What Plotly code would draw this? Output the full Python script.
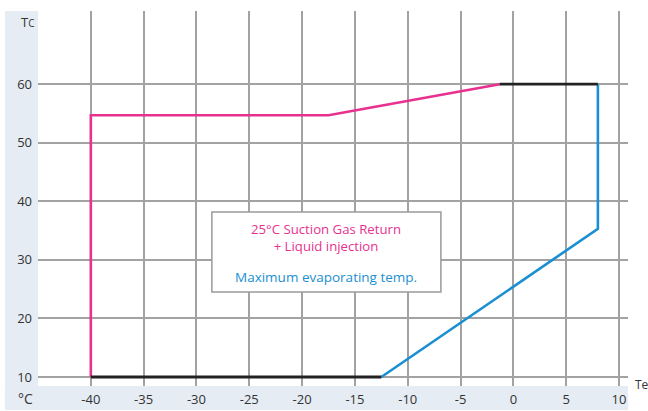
import plotly.graph_objects as go

# Data (Te, Tc)
pink_te = [-40, -40, -17.5, -1.3]
pink_tc = [10, 54.7, 54.7, 60]
black_top_te = [-1.3, 8]
black_top_tc = [60, 60]
blue_te = [8, 8, -12.5]
blue_tc = [60, 35.3, 10]
black_bot_te = [-40, -12.5]
black_bot_tc = [10, 10]

x_ticks = [-40, -35, -30, -25, -20, -15, -10, -5, 0, 5, 10]
y_ticks = [10, 20, 30, 40, 50, 60]

PINK = "#e8318f"
BLUE = "#1b8fd2"
BLACK = "#222222"
BAND = "#e6ecf4"
GRID = "#a2a2a2"

fig = go.Figure()
fig.add_trace(go.Scatter(x=pink_te, y=pink_tc, mode="lines", line=dict(color=PINK, width=2.6)))
fig.add_trace(go.Scatter(x=blue_te, y=blue_tc, mode="lines", line=dict(color=BLUE, width=2.6)))
fig.add_trace(go.Scatter(x=black_top_te, y=black_top_tc, mode="lines", line=dict(color=BLACK, width=2.8)))
fig.add_trace(go.Scatter(x=black_bot_te, y=black_bot_tc, mode="lines", line=dict(color=BLACK, width=2.8)))

font = "Open Sans, Noto Sans, sans-serif"

fig.update_layout(
    width=648, height=411,
    margin=dict(l=38, r=20, t=11, b=25, autoexpand=False),
    paper_bgcolor="white", plot_bgcolor="white",
    showlegend=False,
    font=dict(family=font, size=13, color="#333333"),
    xaxis=dict(range=[-45.0, 10.85], tickvals=x_ticks, ticktext=[str(v) for v in x_ticks],
               showgrid=True, gridcolor=GRID, gridwidth=1.5, zeroline=False, automargin=False,
               showline=False, ticks="", ticklabelstandoff=4, fixedrange=True),
    yaxis=dict(range=[8.46, 72.5], tickvals=y_ticks, ticktext=[str(v) for v in y_ticks],
               showgrid=True, gridcolor=GRID, gridwidth=1.5, zeroline=False, automargin=False,
               showline=False, ticks="", ticklabelstandoff=5, fixedrange=True),
)

# background bands (left and bottom)
fig.add_shape(type="rect", xref="paper", yref="paper", x0=-0.056, x1=0, y0=-0.064, y1=1.0,
              fillcolor=BAND, line=dict(width=0), layer="below")
fig.add_shape(type="rect", xref="paper", yref="paper", x0=-0.056, x1=1.0, y0=-0.064, y1=0,
              fillcolor=BAND, line=dict(width=0), layer="below")

# legend box
fig.add_shape(type="rect", xref="x", yref="y", x0=-28.54, x1=-6.86, y0=24.5, y1=38.16,
              fillcolor="white", line=dict(color="#9a9a9a", width=1.5), layer="above")
fig.add_annotation(x=-17.7, y=33.89, xref="x", yref="y", showarrow=False, yanchor="middle",
                   text="25°C Suction Gas Return<br>+ Liquid injection",
                   font=dict(color=PINK, size=13.2))
fig.add_annotation(x=-17.7, y=27.07, xref="x", yref="y", showarrow=False, yanchor="middle",
                   text="Maximum evaporating temp.", font=dict(color=BLUE, size=13.5))

# axis titles
fig.add_annotation(x=-0.017, y=0.971, xref="paper", yref="paper", showarrow=False,
                   xanchor="center", yanchor="middle",
                   text="T<span style='font-size:10px'>C</span>", font=dict(size=13, color="#333333"))
fig.add_annotation(x=-0.022, y=-0.032, xref="paper", yref="paper", showarrow=False,
                   xanchor="center", yanchor="middle",
                   text="°C", font=dict(size=14, color="#333333"))
fig.add_annotation(x=1.008, y=0.005, xref="paper", yref="paper", showarrow=False,
                   xanchor="left", yanchor="middle",
                   text="Te", font=dict(size=12, color="#333333"))

fig.write_html("out.html", config={"displayModeBar": False},
               post_script="document.body.style.margin='0';")
